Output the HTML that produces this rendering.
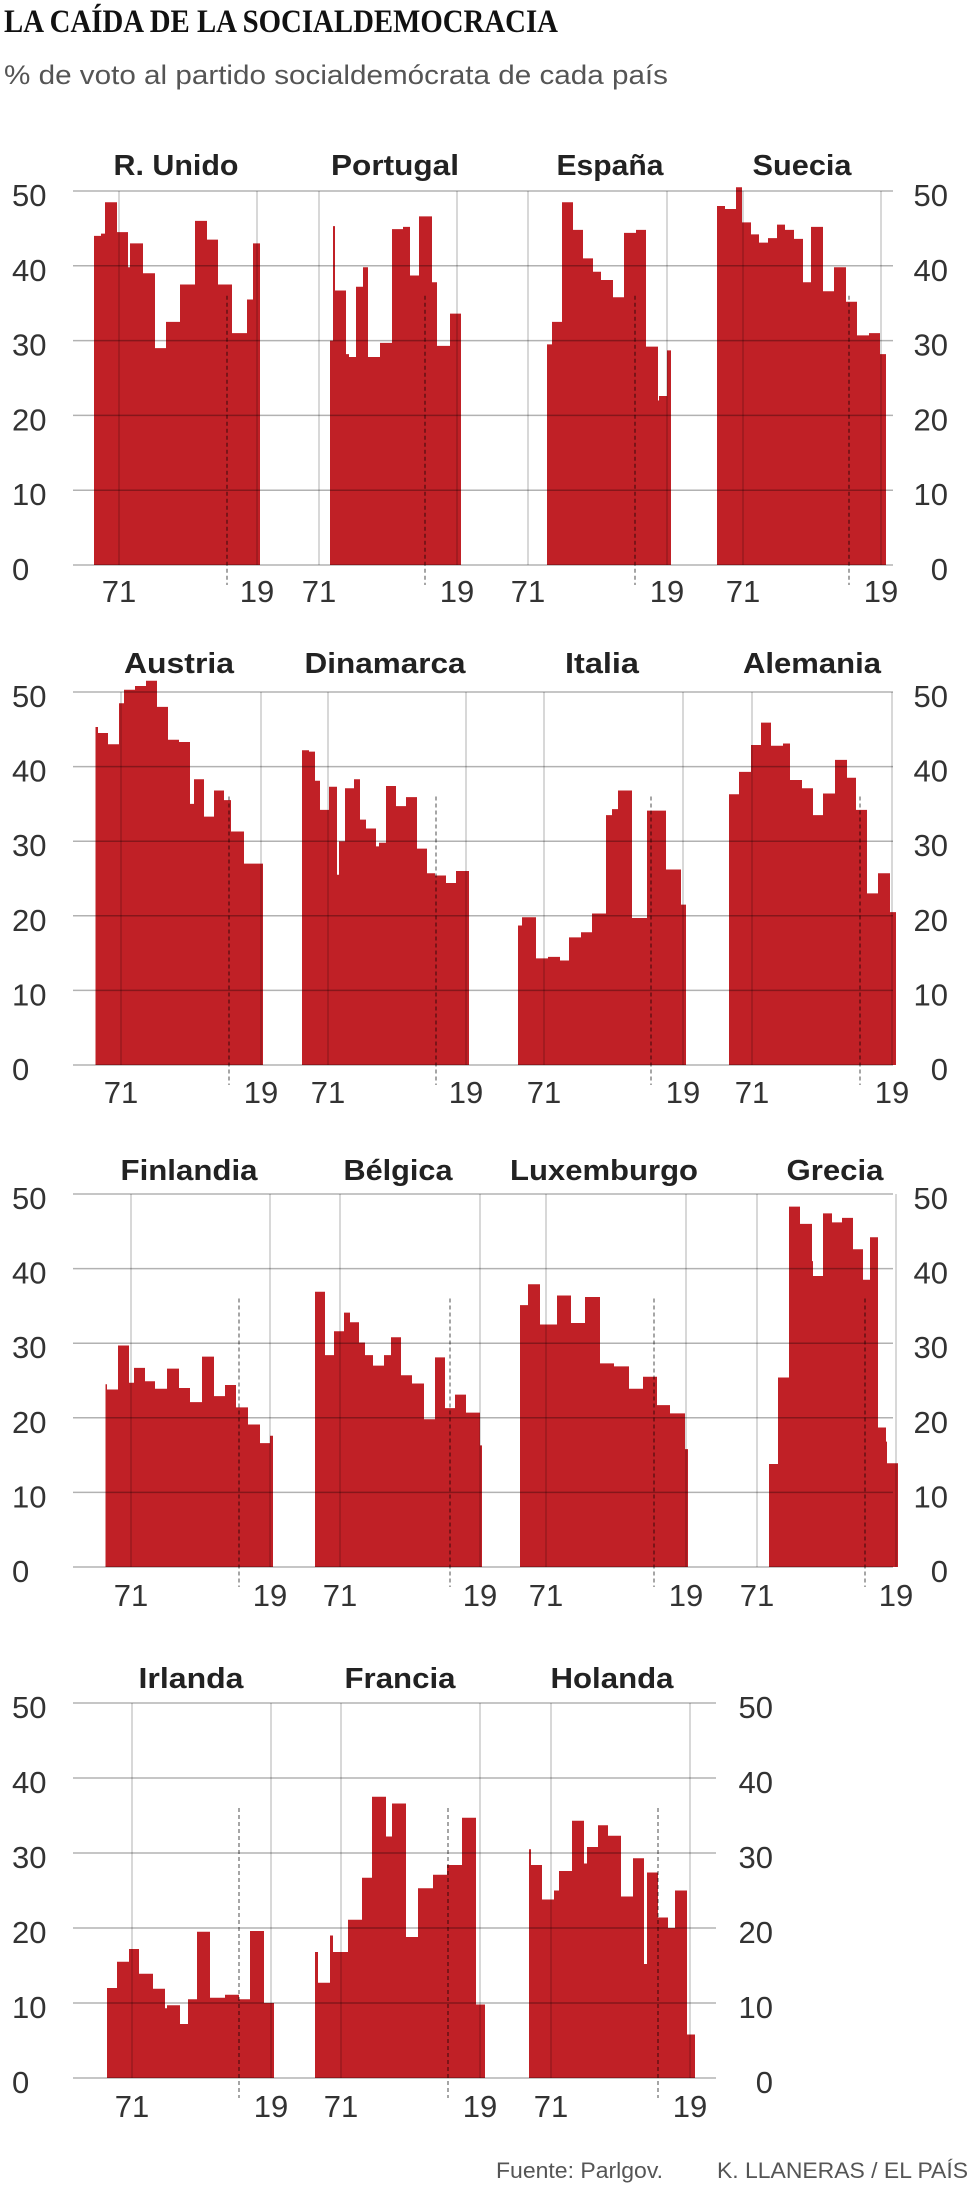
<!DOCTYPE html>
<html><head><meta charset="utf-8"><style>
html,body{margin:0;padding:0;background:#fff;width:980px;height:2199px;overflow:hidden}
svg{display:block}
</style></head><body>
<svg id="s" width="980" height="2199" viewBox="0 0 980 2199" xmlns="http://www.w3.org/2000/svg">
<text x="4" y="32" font-family="Liberation Serif, serif" font-weight="bold" font-size="33" fill="#111" textLength="554" lengthAdjust="spacingAndGlyphs">LA CAÍDA DE LA SOCIALDEMOCRACIA</text>
<text x="4" y="84" font-family="Liberation Sans, sans-serif" font-size="27" fill="#555" textLength="664" lengthAdjust="spacingAndGlyphs">% de voto al partido socialdemócrata de cada país</text>
<text x="496" y="2178" font-family="Liberation Sans, sans-serif" font-size="22" fill="#555" textLength="167" lengthAdjust="spacingAndGlyphs">Fuente: Parlgov.</text>
<text x="717" y="2178" font-family="Liberation Sans, sans-serif" font-size="22" fill="#555" textLength="251" lengthAdjust="spacingAndGlyphs">K. LLANERAS / EL PAÍS</text>
</svg>
<script>
var NS="http://www.w3.org/2000/svg",S=document.getElementById("s");
function el(t,a,txt){var e=document.createElementNS(NS,t);for(var k in a)e.setAttribute(k,a[k]);if(txt!=null)e.textContent=txt;S.appendChild(e);return e;}
var rows=[
 {y50:191,y0:565,tb:175,xb:602,gx2:893,right:948,panels:[
  {n:"R. Unido",c:176,w:125,a:119,b:257,d:227,e:260,s:[[94,44],[101,44.3],[105,48.5],[117,44.5],[128,39.8],[130,43],[143,39],[155,29],[166,32.5],[180,37.5],[195,46],[207,43.5],[218,37.5],[232,31],[247,35.5],[253,43]]},
  {n:"Portugal",c:395,w:128,a:319,b:457,d:425,e:461,s:[[330,30],[333,45.3],[335,36.7],[346,28.2],[349,27.8],[356,37.2],[363,39.8],[368,27.8],[380,29.7],[392,44.9],[403,45.2],[410,38.7],[419,46.6],[432,37.8],[437,29.3],[450,33.6]]},
  {n:"España",c:610,w:107,a:528,b:667,d:635,e:671,s:[[547,29.5],[552,32.5],[562,48.5],[573,44.8],[583,41],[593,39.2],[601,38.1],[613,35.8],[624,44.4],[636,44.8],[646,29.2],[658,22],[659,22.6],[667,28.7]]},
  {n:"Suecia",c:802,w:99,a:743,b:881,d:849,e:886,s:[[717,48],[725,47.6],[736,50.5],[742,45.8],[751,44.2],[759,43.1],[768,43.7],[777,45.5],[785,44.8],[794,43.6],[803,37.8],[811,45.2],[823,36.6],[834,39.8],[846,35.2],[857,30.7],[869,31],[880,28.2]]}]},
 {y50:692,y0:1065,tb:673,xb:1103,gx2:893,right:948,panels:[
  {n:"Austria",c:179,w:110,a:121,b:261,d:229,e:263,s:[[95.5,45.3],[98,44.5],[108,43],[119,48.5],[124,50.3],[135,50.8],[146,51.5],[157,48],[168,43.6],[179,43.3],[190,35],[194,38.3],[204,33.3],[214,36.8],[224,35.5],[231,31.3],[244,27]]},
  {n:"Dinamarca",c:385,w:161,a:328,b:466,d:436,e:469,s:[[302,42.2],[309,42],[315,38.1],[320,34.2],[329,37.3],[337,25.5],[339,30],[345,37.1],[354,38.3],[360,32.9],[366,31.7],[376,29.3],[379,29.8],[386,37.4],[396,34.7],[406,35.9],[417,29],[427,25.7],[435,25.4],[446,24.4],[456,26]]},
  {n:"Italia",c:602,w:74,a:544,b:683,d:651,e:686,s:[[518,18.7],[522,19.8],[536,14.3],[548,14.5],[560,14],[569,17.1],[581,17.8],[592,20.3],[606,33.5],[612,34.3],[618,36.8],[632,19.7],[647,34.1],[666,26.2],[681,21.5]]},
  {n:"Alemania",c:812,w:138,a:752,b:892,d:860,e:896,s:[[729,36.3],[739,39.3],[751,42.9],[761,45.9],[771,42.8],[783,43.1],[790,38.2],[802,37.1],[813,33.5],[823,36.4],[835,40.9],[847,38.5],[856,34.2],[867,23],[878,25.7],[890,20.5]]}]},
 {y50:1194,y0:1567,tb:1180,xb:1606,gx2:893,right:948,panels:[
  {n:"Finlandia",c:189,w:137,a:131,b:270,d:239,e:273,s:[[105.5,24.5],[107,23.8],[118,29.7],[129,24.7],[134,26.7],[145,24.9],[155,23.9],[167,26.6],[179,24],[190,22.1],[202,28.2],[214,22.9],[225,24.4],[236,21.4],[248,19.1],[260,16.6],[270,17.6]]},
  {n:"Bélgica",c:398,w:109,a:340,b:480,d:450,e:482,s:[[315,36.9],[325,28.4],[334,31.6],[344,34.1],[350,32.8],[359,30.1],[365,28.4],[373,27],[384,28.4],[391,30.8],[401,25.7],[412,24.6],[424,19.8],[435,28.1],[445,21.3],[455,23.1],[466,20.7],[480,16.3]]},
  {n:"Luxemburgo",c:604,w:188,a:546,b:686,d:654,e:688,s:[[520,35.1],[528,37.9],[540,32.5],[557,36.4],[571,32.7],[585,36.2],[600,27.3],[614,26.9],[629,23.9],[643,25.5],[657,21.7],[670,20.6],[685,15.8]]},
  {n:"Grecia",c:835,w:97,a:757,b:896,d:865,e:898,s:[[769,13.8],[778,25.4],[789,48.3],[800,46],[812,41],[813,39],[823,47.4],[832,46.2],[842,46.8],[853,42.6],[863,38.5],[870,44.2],[878,18.7],[886,16.8],[887,13.9]]}]},
 {y50:1703,y0:2078,tb:1688,xb:2117,gx2:716,right:773,panels:[
  {n:"Irlanda",c:191,w:105,a:132,b:271,d:239,e:274,s:[[107,12],[117,15.5],[129,17.2],[139,13.9],[153,11.9],[165,9.3],[167,9.7],[180,7.2],[188,10.5],[197,19.5],[210,10.7],[225,11.1],[239,10.5],[250,19.6],[264,10]]},
  {n:"Francia",c:400,w:111,a:341,b:480,d:448,e:485,s:[[315,16.8],[318,12.7],[330,19],[333,16.8],[348,21.1],[362,26.7],[372,37.5],[386,32.2],[392,36.6],[406,18.8],[418,25.3],[433,27.1],[447,28.4],[462,34.7],[476,9.8]]},
  {n:"Holanda",c:612,w:123,a:551,b:690,d:658,e:695,s:[[529,30.5],[531,28.4],[542,23.8],[554,25],[559,27.6],[572,34.3],[584,28.6],[587,30.8],[598,33.7],[608,32.3],[621,24.2],[633,29.3],[644,15.2],[647,27.4],[658,21.4],[668,20],[675,25],[687,5.8]]}]}
];
rows.forEach(function(r){
 var k=(r.y0-r.y50)/50;function Y(v){return r.y0-v*k;}
 r.panels.forEach(function(p){
  var d="M"+p.s[0][0]+","+r.y0;
  for(var i=0;i<p.s.length;i++){var x=p.s[i][0],nx=(i+1<p.s.length)?p.s[i+1][0]:p.e;d+=" L"+x+","+Y(p.s[i][1])+" L"+nx+","+Y(p.s[i][1]);}
  d+=" L"+p.e+","+r.y0+" Z";
  el("path",{d:d,fill:"#c02026"});
 });
 for(var v=0;v<=50;v+=10){
  el("line",{x1:73,x2:r.gx2,y1:Y(v),y2:Y(v),stroke:"rgba(0,0,0,0.3)","stroke-width":1.5});
  el("text",{x:12,y:Y(v)+15,"font-family":"Liberation Sans, sans-serif","font-size":31,fill:"#333"},String(v));
  el("text",{x:r.right,y:Y(v)+15,"text-anchor":"end","font-family":"Liberation Sans, sans-serif","font-size":31,fill:"#333"},String(v));
 }
 r.panels.forEach(function(p){
  [p.a,p.b].forEach(function(x){el("line",{x1:x,x2:x,y1:r.y50,y2:r.y0,stroke:"rgba(0,0,0,0.3)","stroke-width":1});});
  el("line",{x1:p.d,x2:p.d,y1:Y(36),y2:r.y0+20,stroke:"rgba(0,0,0,0.7)","stroke-width":1,"stroke-dasharray":"4,3"});
  el("text",{x:p.a,y:r.xb,"text-anchor":"middle","font-family":"Liberation Sans, sans-serif","font-size":31,fill:"#333"},"71");
  el("text",{x:p.b,y:r.xb,"text-anchor":"middle","font-family":"Liberation Sans, sans-serif","font-size":31,fill:"#333"},"19");
  el("text",{x:p.c,y:r.tb,"text-anchor":"middle","font-family":"Liberation Sans, sans-serif","font-weight":"bold","font-size":29,fill:"#222",textLength:p.w,lengthAdjust:"spacingAndGlyphs"},p.n);
 });
});
</script>
</body></html>
